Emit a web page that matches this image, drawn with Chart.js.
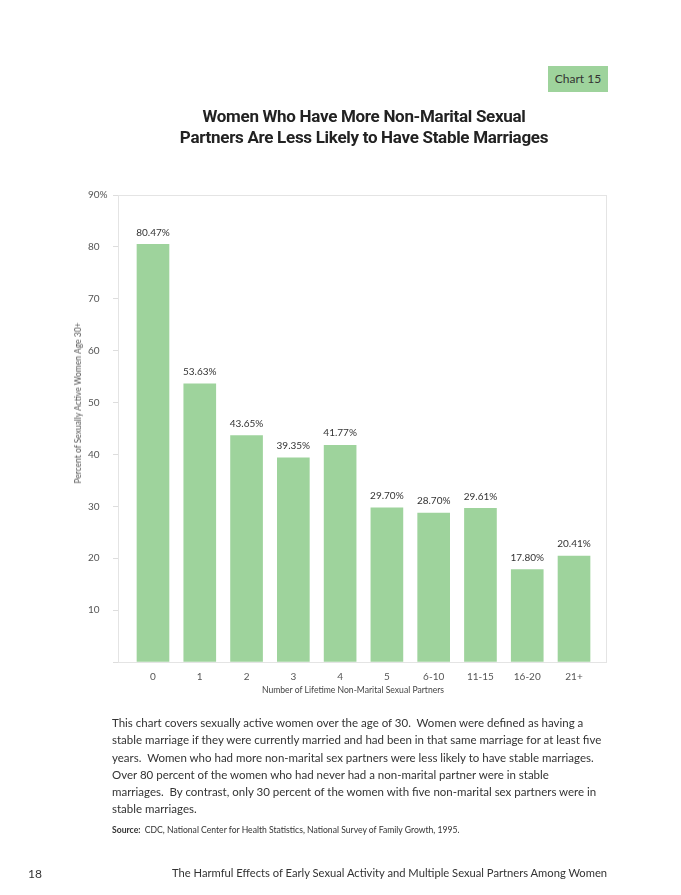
<!DOCTYPE html>
<html>
<head>
<meta charset="utf-8">
<script src="https://cdn.jsdelivr.net/npm/chart.js@4"></script>
<style>
  html, body { margin: 0; padding: 0; background: #fff; }
  #page { position: relative; width: 681px; height: 895px; overflow: hidden; font-family: Lato, "Open Sans", sans-serif; color: #333; }
  #chartWrap { position: absolute; left: 0; top: 0; width: 681px; height: 895px; }
  .badge { position: absolute; left: 548px; top: 66px; width: 60px; height: 26px; background: #9ed39c; font-size: 12px; line-height: 26px; text-align: center; color: #333; }
  .title { position: absolute; left: 120px; width: 488px; top: 106px; text-align: center; font-family: Roboto, sans-serif; font-weight: 700; font-size: 17px; letter-spacing: -0.3px; line-height: 21px; color: #222; }
  .ytitle { position: absolute; left: 78px; top: 403px; transform: translate(-50%, -50%) rotate(-90deg); white-space: nowrap; font-size: 8.5px; color: #555; }
  .xtitle { position: absolute; left: 353px; top: 685px; transform: translateX(-50%); white-space: nowrap; font-size: 8.6px; color: #444; }
  .note { position: absolute; left: 112px; top: 714px; font-size: 11.5px; line-height: 17.3px; color: #333; white-space: pre; }
  .source { position: absolute; left: 112px; top: 825px; font-size: 8.6px; color: #333; white-space: pre; }
  .pageno { position: absolute; left: 28px; top: 866px; font-size: 12px; color: #333; }
  .footer { position: absolute; left: 172px; top: 866px; font-size: 11.2px; color: #333; white-space: nowrap; }
</style>
</head>
<body>
<div id="page">
  <div id="chartWrap"><canvas id="chartCanvas"></canvas></div>
  <div class="badge">Chart 15</div>
  <div class="title">Women Who Have More Non-Marital Sexual<br>Partners Are Less Likely to Have Stable Marriages</div>
  <div class="ytitle">Percent of Sexually Active Women Age 30+</div>
  <div class="xtitle">Number of Lifetime Non-Marital Sexual Partners</div>
  <div class="note">This chart covers sexually active women over the age of 30.  Women were defined as having a
stable marriage if they were currently married and had been in that same marriage for at least five
years.  Women who had more non-marital sex partners were less likely to have stable marriages.
Over 80 percent of the women who had never had a non-marital partner were in stable
marriages.  By contrast, only 30 percent of the women with five non-marital sex partners were in
stable marriages.</div>
  <div class="source"><b>Source:</b>  CDC, National Center for Health Statistics, National Survey of Family Growth, 1995.</div>
  <div class="pageno">18</div>
  <div class="footer">The Harmful Effects of Early Sexual Activity and Multiple Sexual Partners Among Women</div>
</div>
<script>
const partnerLabels = ["0", "1", "2", "3", "4", "5", "6-10", "11-15", "16-20", "21+"];
const stablePct = [80.47, 53.63, 43.65, 39.35, 41.77, 29.70, 28.70, 29.61, 17.80, 20.41];
const yTicks = [10, 20, 30, 40, 50, 60, 70, 80, 90];

// frame around the plot area
const framePlugin = {
  id: "frame",
  beforeDatasetsDraw(chart) {
    const { ctx, chartArea: a } = chart;
    ctx.save();
    ctx.strokeStyle = "#e4e4e4";
    ctx.lineWidth = 1;
    ctx.strokeRect(a.left + 0.5, a.top + 0.5, a.right - a.left - 1, a.bottom - a.top);
    ctx.restore();
  }
};

// value labels over bars
const valueLabels = {
  id: "valueLabels",
  afterDatasetsDraw(chart) {
    const { ctx } = chart;
    const meta = chart.getDatasetMeta(0);
    ctx.save();
    ctx.font = "10px Lato, sans-serif";
    ctx.fillStyle = "#333";
    ctx.textAlign = "center";
    ctx.textBaseline = "bottom";
    meta.data.forEach((bar, i) => {
      ctx.fillText(stablePct[i].toFixed(2) + "%", bar.x, bar.y - 7);
    });
    ctx.restore();
  }
};

const ctx = document.getElementById("chartCanvas").getContext("2d");
new Chart(ctx, {
  type: "bar",
  data: {
    datasets: [{
      data: stablePct.map((v, i) => ({ x: i, y: v })),
      backgroundColor: "#9ed39c",
      borderWidth: 0,
      barThickness: 32
    }]
  },
  options: {
    responsive: true,
    maintainAspectRatio: false,
    animation: false,
    layout: { padding: { left: 88, top: 195, right: 74, bottom: 193 } },
    plugins: { legend: { display: false }, tooltip: { enabled: false } },
    scales: {
      x: {
        type: "linear",
        offset: false,
        min: -0.748,
        max: 9.705,
        afterBuildTicks: s => { s.ticks = partnerLabels.map((_, i) => ({ value: i })); },
        afterFit: s => { s.height = 40; },
        grid: { display: false, drawTicks: false, offset: false },
        border: { display: false },
        ticks: {
          padding: 9,
          color: "#555",
          font: { family: "Lato, sans-serif", size: 10 },
          callback: v => partnerLabels[v] ?? ""
        }
      },
      y: {
        min: 0,
        max: 90,
        afterBuildTicks: s => { s.ticks = [0, ...yTicks].map(v => ({ value: v })); },
        afterFit: s => { s.width = 30; },
        grid: { drawOnChartArea: false, tickLength: 5, color: "#dddddd" },
        border: { display: false },
        ticks: {
          crossAlign: "far",
          padding: 0,
          color: "#555",
          font: { family: "Lato, sans-serif", size: 10 },
          callback: v => v === 0 ? "" : (v === 90 ? "90%" : v)
        }
      }
    }
  },
  plugins: [framePlugin, valueLabels]
});
</script>
</body>
</html>
